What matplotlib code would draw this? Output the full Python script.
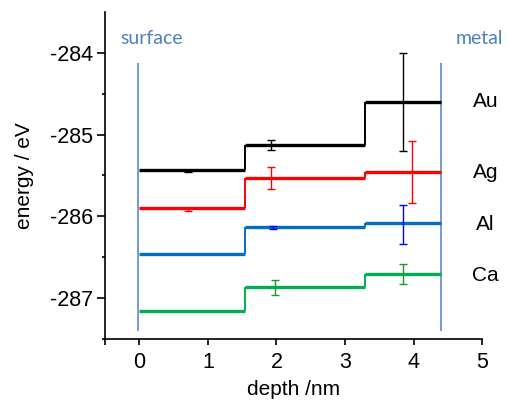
import numpy as np
import matplotlib.pyplot as plt

# step edges (depth, nm)
edges = [0.0, 1.54, 3.29, 4.40]

# binding energy levels per layer
au_levels = [-285.43, -285.13, -284.60]
ag_levels = [-285.90, -285.53, -285.46]
al_levels = [-286.46, -286.13, -286.08]
ca_levels = [-287.16, -286.86, -286.71]

# error bars: x position, y value, error
au_err_x = [0.71, 1.92, 3.84]
au_err_y = [-285.45, -285.13, -284.60]
au_err = [0.01, 0.06, 0.60]

ag_err_x = [0.71, 1.92, 3.97]
ag_err_y = [-285.92, -285.53, -285.46]
ag_err = [0.02, 0.13, 0.38]

al_err_x = [1.95, 3.84]
al_err_y = [-286.14, -286.10]
al_err = [0.02, 0.24]

ca_err_x = [1.98, 3.84]
ca_err_y = [-286.87, -286.71]
ca_err = [0.09, 0.12]

labels = ['Au', 'Ag', 'Al', 'Ca']
label_y = [-284.60, -285.46, -286.10, -286.72]

plt.rcParams['font.family'] = ['Liberation Sans', 'DejaVu Sans']

fig = plt.figure(figsize=(5.08, 4.01), dpi=100)
ax = fig.add_axes([0.207, 0.155, 0.742, 0.815])

# interface lines
ax.vlines([-0.02, 4.40], -287.4, -284.12, color='#5B8BD0', lw=1.2)

series = [
    (ca_levels, '#00B050', ca_err_x, ca_err_y, ca_err, '#1A9A2E'),
    (al_levels, '#0070C0', al_err_x, al_err_y, al_err, '#0000FF'),
    (ag_levels, '#FF0000', ag_err_x, ag_err_y, ag_err, '#FF0000'),
    (au_levels, '#000000', au_err_x, au_err_y, au_err, '#000000'),
]
for levels, col, ex, ey, ee, ecol in series:
    lv = np.array(levels)
    ax.hlines(lv, edges[:-1], edges[1:], color=col, lw=2.4)
    ax.vlines(edges[1:-1], lv[:-1], lv[1:], color=col, lw=1.4)
    ax.errorbar(ex, ey, yerr=ee, fmt='none', ecolor=ecol, elinewidth=1.0,
                capsize=3, capthick=1.0)

for lab, yy in zip(labels, label_y):
    ax.text(5.05, yy, lab, fontsize=15, ha='center', va='center', clip_on=False)

ax.text(-0.28, -283.83, 'surface', color='#4F81BD', fontsize=14,
        family=['Lato', 'DejaVu Sans'], ha='left', va='center')
ax.text(4.62, -283.83, 'metal', color='#4F81BD', fontsize=14,
        family=['Lato', 'DejaVu Sans'], ha='left', va='center', clip_on=False)

ax.set_xlim(-0.5, 5)
ax.set_ylim(-287.5, -283.5)
ax.set_xticks([0, 1, 2, 3, 4, 5])
ax.set_xticks([-0.5], minor=True)
ax.set_yticks([-287, -286, -285, -284])
ax.set_yticks(np.arange(-287.5, -283.9, 0.5), minor=True)
ax.set_yticklabels(['-287', '-286', '-285', '-284'])
ax.tick_params(axis='both', labelsize=15.5, width=1.2, direction='out')
ax.tick_params(axis='x', length=4.5, pad=5)
ax.tick_params(axis='x', which='minor', length=4.5, width=1.2)
ax.tick_params(axis='y', length=5.5, pad=3)
ax.tick_params(axis='y', which='minor', width=1.2, length=2.5)

for s in ['top', 'right']:
    ax.spines[s].set_visible(False)
for s in ['left', 'bottom']:
    ax.spines[s].set_linewidth(1.2)

ax.set_xlabel('depth /nm', fontsize=15, labelpad=5)
ax.set_ylabel('energy / eV', fontsize=15, labelpad=12)

fig.savefig('out.png', dpi=100)
